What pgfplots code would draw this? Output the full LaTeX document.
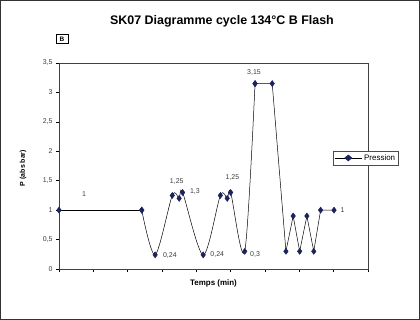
\documentclass[border=0pt]{standalone}
\usepackage{pgfplots}
\pgfplotsset{compat=1.18}
\usepackage{fontspec}
\setmainfont{Liberation Sans}
\definecolor{mk}{RGB}{28,34,92}
\definecolor{lab}{RGB}{60,60,60}
\begin{document}
\begin{tikzpicture}
\useasboundingbox (0,0) rectangle (420bp,320bp);
\draw[black!80, line width=0.8bp] (0.4bp,0.4bp) rectangle (419.6bp,319.6bp);
\node[font=\bfseries\fontsize{12.5}{14}\selectfont] at (222bp,299bp) {SK07 Diagramme cycle 134°C B Flash};
\node[draw, line width=0.6bp, inner sep=2bp, minimum width=12bp, minimum height=9bp, font=\bfseries\fontsize{6.5}{7}\selectfont] at (62bp,281bp) {B};
\node[rotate=90, font=\bfseries\fontsize{7}{8}\selectfont] at (23bp,152bp) {P (abs bar)};
\begin{axis}[
  at={(59bp,51bp)}, anchor=south west,
  scale only axis, width=309bp, height=206bp,
  xmin=0, xmax=9, ymin=0, ymax=3.5,
  xtick={0,...,9}, xticklabels={},
  ytick={0,0.5,...,3.5},
  /pgf/number format/use comma,
  /pgf/number format/assume math mode=true,
  yticklabel style={font=\fontsize{7}{8}\selectfont, text=lab},
  tick align=outside, major tick length=3bp,
  xtick pos=bottom, ytick pos=left,
  axis line style={black!75, line width=0.6bp},
  tick style={black, line width=0.5bp},
  xlabel={Temps (min)},
  xlabel style={font=\bfseries\fontsize{8}{9}\selectfont, at={(rel axis cs:0.5,0)}, anchor=center, yshift=-14bp},
  legend style={at={(rel axis cs:1.100,0.539)}, anchor=east, font=\fontsize{8}{9}\selectfont, draw=black!70, inner sep=1.5bp, line width=0.5bp},
  legend cell align=left,
  legend image post style={xscale=1.6},
]
\addplot[black, line width=0.5bp, mark=diamond*, mark size=3pt, mark options={fill=mk, draw=mk}] coordinates {(0,1) (2.41,1)};
\addlegendentry{Pression}
\addplot[black, line width=0.5bp, smooth, tension=0.5, mark=diamond*, mark size=3pt, mark options={fill=mk, draw=mk}, forget plot] coordinates {
(2.41,1) (2.80,0.24) (3.30,1.25) (3.50,1.2) (3.60,1.3) (4.20,0.24) (4.70,1.25) (4.90,1.2) (5.00,1.3) (5.41,0.3) (5.71,3.15)};
\addplot[black, line width=0.5bp, mark=diamond*, mark size=3pt, mark options={fill=mk, draw=mk}, forget plot] coordinates {
(5.71,3.15) (6.21,3.15) (6.61,0.3) (6.82,0.9) (7.01,0.3) (7.22,0.9) (7.42,0.3) (7.62,1) (8.01,1)};
\begin{scope}[every node/.style={font=\fontsize{7}{8}\selectfont, text=lab}]
\node at (axis cs:0.73,1.27) {1};
\node at (axis cs:3.23,0.23) {0,24};
\node at (axis cs:3.43,1.49) {1,25};
\node at (axis cs:3.96,1.32) {1,3};
\node at (axis cs:4.61,0.24) {0,24};
\node at (axis cs:5.05,1.55) {1,25};
\node at (axis cs:5.71,0.25) {0,3};
\node at (axis cs:5.68,3.33) {3,15};
\node at (axis cs:8.26,1.0) {1};
\end{scope}
\end{axis}
\end{tikzpicture}
\end{document}
